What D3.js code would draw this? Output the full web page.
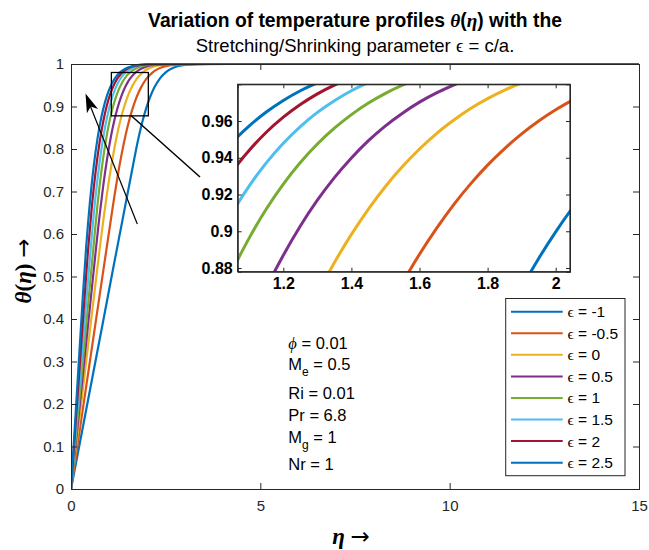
<!DOCTYPE html>
<html><head><meta charset="utf-8">
<script src="https://cdn.jsdelivr.net/npm/d3@7/dist/d3.min.js"></script>
<style>body{margin:0;background:#fff}svg{display:block}</style>
</head><body>
<svg id="chart" width="649" height="550"></svg>
<script>
// ---------- data ----------
const epsLabels = ["-1", "-0.5", "0", "0.5", "1", "1.5", "2", "2.5"];
const seriesColors = ["#0072BD", "#D95319", "#EDB120", "#7E2F8E", "#77AC30", "#4DBEEE", "#A2142F", "#0072BD"];

const etaEpsM1   = [0, 0.84, 1.6774, 1.75, 1.8, 1.85, 1.9, 1.95, 2.0, 2.05, 2.1, 2.2, 2.35, 2.5, 2.7, 3.0, 3.4, 4.2, 15];
const thetaEpsM1 = [0, 0.3906, 0.78, 0.8123, 0.8327, 0.8517, 0.8692, 0.8852, 0.8997, 0.9129, 0.9247, 0.9445, 0.9662, 0.9804, 0.9911, 0.9977, 0.9997, 1, 1];

const etaEpsM05   = [0, 0.54, 1.0797, 1.15, 1.25, 1.35, 1.45, 1.5, 1.569, 1.6, 1.65, 1.7, 1.75, 1.8, 1.85, 1.9, 1.95, 2.0, 2.05, 2.15, 2.3, 2.5, 2.8, 3.3, 4.0, 15];
const thetaEpsM05 = [0, 0.3251, 0.65, 0.6912, 0.7455, 0.7939, 0.8361, 0.8547, 0.878, 0.8875, 0.9016, 0.9144, 0.9258, 0.936, 0.945, 0.953, 0.96, 0.9661, 0.9714, 0.9799, 0.9885, 0.9949, 0.9987, 0.9999, 1, 1];

const etaEps0   = [0, 0.33, 0.6693, 0.75, 0.85, 0.95, 1.05, 1.15, 1.25, 1.3, 1.335, 1.4, 1.45, 1.5, 1.55, 1.6, 1.65, 1.7, 1.75, 1.8, 1.85, 1.9, 2.0, 2.15, 2.4, 2.8, 3.6, 15];
const thetaEps0 = [0, 0.2465, 0.5, 0.5595, 0.6298, 0.6947, 0.7529, 0.8037, 0.847, 0.8658, 0.878, 0.8983, 0.9121, 0.9244, 0.9352, 0.9448, 0.9532, 0.9604, 0.9668, 0.9722, 0.9768, 0.9808, 0.987, 0.993, 0.9977, 0.9997, 1, 1];

const etaEps05   = [0, 0.34, 0.6768, 0.75, 0.85, 0.95, 1.05, 1.1, 1.174, 1.2, 1.25, 1.3, 1.35, 1.4, 1.45, 1.5, 1.55, 1.6, 1.65, 1.7, 1.8, 1.95, 2.2, 2.6, 3.4, 15];
const thetaEps05 = [0, 0.2914, 0.58, 0.64, 0.7128, 0.7751, 0.8269, 0.8492, 0.878, 0.887, 0.9029, 0.9169, 0.9292, 0.9399, 0.9493, 0.9574, 0.9643, 0.9703, 0.9753, 0.9796, 0.9863, 0.9927, 0.9977, 0.9997, 1, 1];

const etaEps1   = [0, 0.32, 0.6413, 0.7, 0.8, 0.9, 0.95, 1.0, 1.066, 1.1, 1.15, 1.2, 1.25, 1.3, 1.35, 1.4, 1.45, 1.5, 1.55, 1.6, 1.7, 1.85, 2.1, 2.5, 3.2, 15];
const thetaEps1 = [0, 0.3069, 0.615, 0.6683, 0.7459, 0.8085, 0.8348, 0.858, 0.8845, 0.8964, 0.9121, 0.9257, 0.9374, 0.9475, 0.9561, 0.9635, 0.9698, 0.9751, 0.9795, 0.9832, 0.9889, 0.9942, 0.9982, 0.9998, 1, 1];

const etaEps15   = [0, 0.25, 0.505, 0.6, 0.7, 0.8, 0.9, 1.0, 1.066, 1.1, 1.15, 1.2, 1.25, 1.3, 1.35, 1.4, 1.45, 1.55, 1.7, 1.9, 2.3, 3.0, 15];
const thetaEps15 = [0, 0.2723, 0.55, 0.6456, 0.7295, 0.7977, 0.8516, 0.8932, 0.915, 0.9247, 0.9372, 0.9479, 0.957, 0.9647, 0.9711, 0.9765, 0.981, 0.9877, 0.9939, 0.9977, 0.9998, 1, 1];

const etaEps2   = [0, 0.19, 0.3813, 0.45, 0.55, 0.65, 0.75, 0.85, 0.95, 1.0, 1.066, 1.1, 1.15, 1.2, 1.25, 1.3, 1.35, 1.45, 1.6, 1.8, 2.2, 3.0, 15];
const thetaEps2 = [0, 0.2392, 0.48, 0.5616, 0.6636, 0.7467, 0.8128, 0.8643, 0.9035, 0.9192, 0.9365, 0.9441, 0.9539, 0.9621, 0.969, 0.9748, 0.9796, 0.9868, 0.9934, 0.9975, 0.9997, 1, 1];

const etaEps25   = [0, 0.155, 0.3103, 0.4, 0.5, 0.6, 0.7, 0.8, 0.9, 1.0, 1.066, 1.1, 1.15, 1.2, 1.25, 1.3, 1.4, 1.6, 1.8, 2.2, 3.0, 15];
const thetaEps25 = [0, 0.2248, 0.45, 0.5685, 0.6755, 0.7596, 0.8246, 0.874, 0.9109, 0.9379, 0.9515, 0.9574, 0.9649, 0.9712, 0.9765, 0.9808, 0.9874, 0.9948, 0.998, 0.99975, 1, 1];

const etaSeries = [etaEpsM1, etaEpsM05, etaEps0, etaEps05, etaEps1, etaEps15, etaEps2, etaEps25];
const thetaSeries = [thetaEpsM1, thetaEpsM05, thetaEps0, thetaEps05, thetaEps1, thetaEps15, thetaEps2, thetaEps25];

const xTicks = [0, 5, 10, 15];
const yTicks = [0, 0.1, 0.2, 0.3, 0.4, 0.5, 0.6, 0.7, 0.8, 0.9, 1];
const insetXTicks = [1.2, 1.4, 1.6, 1.8, 2];
const insetYTicks = [0.88, 0.9, 0.92, 0.94, 0.96];
const insetXDomain = [1.066, 2.042];
const insetYDomain = [0.878, 0.98];
const paramLines = [
  {sym: "ϕ", sub: "", rest: " = 0.01"},
  {sym: "M", sub: "e", rest: " = 0.5"},
  {sym: "Ri", sub: "", rest: " = 0.01"},
  {sym: "Pr", sub: "", rest: " = 6.8"},
  {sym: "M", sub: "g", rest: " = 1"},
  {sym: "Nr", sub: "", rest: " = 1"}
];
const paramBaselines = [348.5, 370, 398.5, 420.5, 442.5, 470];

// ---------- layout ----------
const svg = d3.select("#chart");
const W = 649, H = 550;
const M = {left: 71, right: 639, top: 64, bottom: 489};
const axisColor = "#262626";
const sans = "'Liberation Sans', Arial, Helvetica, sans-serif";
const serif = "'Liberation Serif', 'DejaVu Serif', 'Times New Roman', serif";

const x = d3.scaleLinear().domain([0, 15]).range([M.left, M.right]);
const y = d3.scaleLinear().domain([0, 1]).range([M.bottom, M.top]);

svg.append("rect").attr("width", W).attr("height", H).attr("fill", "#fff");

const data = etaSeries.map((e, i) => e.map((v, j) => [v, thetaSeries[i][j]]));

const defs = svg.append("defs");
defs.append("clipPath").attr("id", "mainClip").append("rect")
  .attr("x", M.left).attr("y", M.top - 2).attr("width", M.right - M.left).attr("height", M.bottom - M.top + 2);

const lineMain = d3.line().x(d => x(d[0])).y(d => y(d[1])).curve(d3.curveMonotoneX);

const gLines = svg.append("g").attr("clip-path", "url(#mainClip)");
data.forEach((d, i) => {
  gLines.append("path").datum(d).attr("d", lineMain)
    .attr("fill", "none").attr("stroke", seriesColors[i]).attr("stroke-width", 2.2)
    .attr("stroke-linejoin", "round");
});

function styleAxis(g) {
  g.select(".domain").attr("stroke", axisColor).attr("stroke-width", 1);
  g.selectAll(".tick line").attr("stroke", axisColor).attr("stroke-width", 1);
  g.selectAll(".tick text").attr("fill", axisColor);
  g.attr("font-family", sans);
}
const tickLen = 6;
svg.append("g").attr("transform", `translate(0,${M.bottom})`)
  .call(d3.axisBottom(x).tickValues(xTicks).tickSize(-tickLen).tickPadding(11).tickFormat(d3.format("d")))
  .call(styleAxis).attr("font-size", 15);
svg.append("g").attr("transform", `translate(0,${M.top})`)
  .call(d3.axisTop(x).tickValues(xTicks).tickSize(-tickLen).tickFormat(""))
  .call(styleAxis);
svg.append("g").attr("transform", `translate(${M.left},0)`)
  .call(d3.axisLeft(y).tickValues(yTicks).tickSize(-tickLen).tickPadding(7).tickFormat(d => d3.format("~g")(d)))
  .call(styleAxis).attr("font-size", 15);
svg.append("g").attr("transform", `translate(${M.right},0)`)
  .call(d3.axisRight(y).tickValues(yTicks).tickSize(-tickLen).tickFormat(""))
  .call(styleAxis);

// zoom rectangle in main axes
svg.append("rect")
  .attr("x", x(insetXDomain[0])).attr("y", y(insetYDomain[1]))
  .attr("width", x(insetXDomain[1]) - x(insetXDomain[0]))
  .attr("height", y(insetYDomain[0]) - y(insetYDomain[1]))
  .attr("fill", "none").attr("stroke", "#000").attr("stroke-width", 1.3);

// connector line
svg.append("line").attr("x1", 131).attr("y1", 115.5).attr("x2", 200).attr("y2", 177)
  .attr("stroke", "#000").attr("stroke-width", 1.5);

// arrow
const tail = [137.3, 224], tip = [85.5, 93.5];
svg.append("line").attr("x1", tail[0]).attr("y1", tail[1]).attr("x2", tip[0] + 3).attr("y2", tip[1] + 8)
  .attr("stroke", "#000").attr("stroke-width", 1.2);
{
  const ang = Math.atan2(tail[1] - tip[1], tail[0] - tip[0]);
  const L = 19, Wd = 6, back = 14;
  const ux = Math.cos(ang), uy = Math.sin(ang), px = -uy, py = ux;
  const p1 = [tip[0] + ux * L + px * Wd, tip[1] + uy * L + py * Wd];
  const p2 = [tip[0] + ux * back, tip[1] + uy * back];
  const p3 = [tip[0] + ux * L - px * Wd, tip[1] + uy * L - py * Wd];
  svg.append("path").attr("d", `M${tip}L${p1}L${p2}L${p3}Z`).attr("fill", "#000");
}

// ---------- inset ----------
const I = {left: 237.7, right: 570, top: 84.3, bottom: 271.7};
const xi = d3.scaleLinear().domain(insetXDomain).range([I.left, I.right]);
const yi = d3.scaleLinear().domain(insetYDomain).range([I.bottom, I.top]);
svg.append("rect").attr("x", I.left).attr("y", I.top).attr("width", I.right - I.left).attr("height", I.bottom - I.top).attr("fill", "#fff");
defs.append("clipPath").attr("id", "insetClip").append("rect")
  .attr("x", I.left).attr("y", I.top).attr("width", I.right - I.left).attr("height", I.bottom - I.top);
const lineInset = d3.line().x(d => xi(d[0])).y(d => yi(d[1])).curve(d3.curveMonotoneX);
const gInset = svg.append("g").attr("clip-path", "url(#insetClip)");
data.forEach((d, i) => {
  gInset.append("path").datum(d).attr("d", lineInset)
    .attr("fill", "none").attr("stroke", seriesColors[i]).attr("stroke-width", 3);
});
const iTick = 4;
function styleInset(g) {
  styleAxis(g);
  g.attr("font-weight", "bold").attr("font-size", 16);
  g.selectAll(".tick text").attr("fill", "#000");
}
svg.append("g").attr("transform", `translate(0,${I.bottom})`)
  .call(d3.axisBottom(xi).tickValues(insetXTicks).tickSize(-iTick).tickPadding(6).tickFormat(d3.format("~g")))
  .call(styleInset);
svg.append("g").attr("transform", `translate(0,${I.top})`)
  .call(d3.axisTop(xi).tickValues(insetXTicks).tickSize(-iTick).tickFormat(""))
  .call(styleInset);
svg.append("g").attr("transform", `translate(${I.left},0)`)
  .call(d3.axisLeft(yi).tickValues(insetYTicks).tickSize(-iTick).tickPadding(5).tickFormat(d3.format("~g")))
  .call(styleInset);
svg.append("g").attr("transform", `translate(${I.right},0)`)
  .call(d3.axisRight(yi).tickValues(insetYTicks).tickSize(-iTick).tickFormat(""))
  .call(styleInset);
svg.append("rect").attr("x", I.left).attr("y", I.top).attr("width", I.right - I.left).attr("height", I.bottom - I.top)
  .attr("fill", "none").attr("stroke", axisColor).attr("stroke-width", 1.2);

// ---------- legend ----------
const Lg = {left: 505.7, right: 625, top: 298.5, bottom: 475.7};
svg.append("rect").attr("x", Lg.left).attr("y", Lg.top).attr("width", Lg.right - Lg.left).attr("height", Lg.bottom - Lg.top)
  .attr("fill", "#fff").attr("stroke", axisColor).attr("stroke-width", 1);
epsLabels.forEach((lab, i) => {
  const yy = 311.7 + i * 21.57;
  svg.append("line").attr("x1", 511).attr("x2", 562.7).attr("y1", yy).attr("y2", yy)
    .attr("stroke", seriesColors[i]).attr("stroke-width", 2);
  const t = svg.append("text").attr("x", 567.5).attr("y", yy + 5.5).attr("font-family", sans).attr("font-size", 15.5).attr("fill", "#000");
  t.append("tspan").attr("font-family", serif).text("ϵ");
  t.append("tspan").text(" = " + lab);
});

// ---------- parameter annotations ----------
paramLines.forEach((p, i) => {
  const t = svg.append("text").attr("x", 288.3).attr("y", paramBaselines[i]).attr("font-family", sans).attr("font-size", 16.5).attr("fill", "#000");
  if (p.sym === "ϕ") t.append("tspan").attr("font-family", serif).attr("font-style", "italic").text(p.sym);
  else t.append("tspan").text(p.sym);
  if (p.sub) t.append("tspan").attr("dy", 6).attr("font-size", 12).text(p.sub);
  t.append("tspan").attr("dy", p.sub ? -6 : 0).text(p.rest);
});

// ---------- titles ----------
const t1 = svg.append("text").attr("x", (M.left + M.right) / 2).attr("y", 26.5).attr("text-anchor", "middle")
  .attr("font-family", sans).attr("font-weight", "bold").attr("font-size", 19.3).attr("fill", "#000");
t1.append("tspan").text("Variation of temperature profiles ");
t1.append("tspan").attr("font-family", serif).attr("font-style", "italic").text("θ");
t1.append("tspan").text("(");
t1.append("tspan").attr("font-family", serif).attr("font-style", "italic").text("η");
t1.append("tspan").text(") with the");
const t2 = svg.append("text").attr("x", (M.left + M.right) / 2).attr("y", 52).attr("text-anchor", "middle")
  .attr("font-family", sans).attr("font-size", 18.5).attr("fill", "#000");
t2.append("tspan").text("Stretching/Shrinking parameter ");
t2.append("tspan").attr("font-family", serif).text("ϵ");
t2.append("tspan").text(" = c/a.");

// axis labels
const arrowFont = "'DejaVu Sans', sans-serif";
const xl = svg.append("text").attr("x", 351).attr("y", 544).attr("text-anchor", "middle")
  .attr("font-family", serif).attr("font-weight", "bold").attr("font-size", 23).attr("fill", "#000");
xl.append("tspan").attr("font-style", "italic").text("η");
xl.append("tspan").text(" ");
xl.append("tspan").attr("font-family", arrowFont).attr("font-weight", "normal").text("→");
const yl = svg.append("text").attr("transform", "translate(31,271) rotate(-90)").attr("text-anchor", "middle")
  .attr("font-family", serif).attr("font-weight", "bold").attr("font-size", 23).attr("fill", "#000");
yl.append("tspan").attr("font-style", "italic").text("θ");
yl.append("tspan").text("(");
yl.append("tspan").attr("font-style", "italic").text("η");
yl.append("tspan").text(") ");
yl.append("tspan").attr("font-family", arrowFont).attr("font-weight", "normal").text("→");
</script>
</body></html>
